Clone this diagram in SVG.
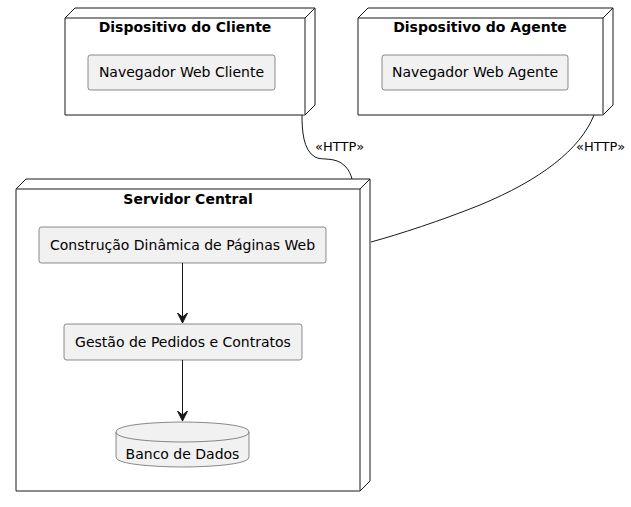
<svg xmlns="http://www.w3.org/2000/svg" width="631" height="507" viewBox="0 0 631 507">
<style>
.node{fill:#FFFFFF;stroke:#181818;stroke-width:1}
.comp{fill:#F1F1F1;stroke:#181818;stroke-width:0.5}
.title{font-family:"DejaVu Sans",sans-serif;font-size:14px;font-weight:bold;fill:#000;text-anchor:middle}
.lbl{font-family:"DejaVu Sans",sans-serif;font-size:14px;fill:#000;text-anchor:middle}
.elbl{font-family:"DejaVu Sans",sans-serif;font-size:13px;fill:#000}
.link{fill:none;stroke:#181818;stroke-width:1}
</style>
<defs>
<marker id="arr" markerWidth="12" markerHeight="12" refX="10" refY="5" orient="auto" markerUnits="userSpaceOnUse" viewBox="0 0 12 10">
<path d="M0,0 L10,5 L0,10 L4,5 Z" fill="#181818" stroke="#181818" stroke-width="1"/>
</marker>
</defs>
<g id="cliente">
<path class="node" d="M65,18 L75,8 L315,8 L315,105 L305,115 L65,115 Z"/>
<path class="node" d="M305,18 L315,8 M65,18 L305,18 L305,115"/>
<text class="title" x="185" y="32">Dispositivo do Cliente</text>
<g id="navCliente">
<rect class="comp" x="88" y="55" width="187" height="35" rx="2.5"/>
<text class="lbl" x="181.5" y="77">Navegador Web Cliente</text>
</g>
</g>
<g id="agente">
<path class="node" d="M358,18 L368,8 L613,8 L613,105 L603,115 L358,115 Z"/>
<path class="node" d="M603,18 L613,8 M358,18 L603,18 L603,115"/>
<text class="title" x="480" y="32">Dispositivo do Agente</text>
<g id="navAgente">
<rect class="comp" x="382" y="55" width="186" height="35" rx="2.5"/>
<text class="lbl" x="475" y="77">Navegador Web Agente</text>
</g>
</g>
<g id="servidor">
<path class="node" d="M16,189 L26,179 L370,179 L370,481 L360,491 L16,491 Z"/>
<path class="node" d="M360,189 L370,179 M16,189 L360,189 L360,491"/>
<text class="title" x="188" y="204">Servidor Central</text>
<g id="construcao">
<rect class="comp" x="39" y="227" width="287" height="36" rx="2.5"/>
<text class="lbl" x="182.5" y="250">Construção Dinâmica de Páginas Web</text>
</g>
<g id="gestao">
<rect class="comp" x="64" y="324" width="238" height="36" rx="2.5"/>
<text class="lbl" x="183" y="347">Gestão de Pedidos e Contratos</text>
</g>
<g id="banco">
<path class="comp" d="M116,432 C116,422 182.5,422 182.5,422 C182.5,422 249,422 249,432 L249,457 C249,467 182.5,467 182.5,467 C182.5,467 116,467 116,457 Z"/>
<path class="comp" fill="none" d="M116,432 C116,442 182.5,442 182.5,442 C182.5,442 249,442 249,432"/>
<text class="lbl" x="182.5" y="459">Banco de Dados</text>
</g>
</g>
<g id="connectors">
<path class="link" d="M302,115 C302,130 303,150 315,157 C322,161 335,156 345,166 C349,170 351,175 352,179"/>
<text class="elbl" x="315" y="151">«HTTP»</text>
<path class="link" d="M594,115 C580,150 540,180 480,205 C440,221 400,234 371,242"/>
<text class="elbl" x="576" y="151">«HTTP»</text>
<path class="link" marker-end="url(#arr)" d="M182.5,263 L182.5,323"/>
<path class="link" marker-end="url(#arr)" d="M182.5,360 L182.5,421"/>
</g>
</svg>
